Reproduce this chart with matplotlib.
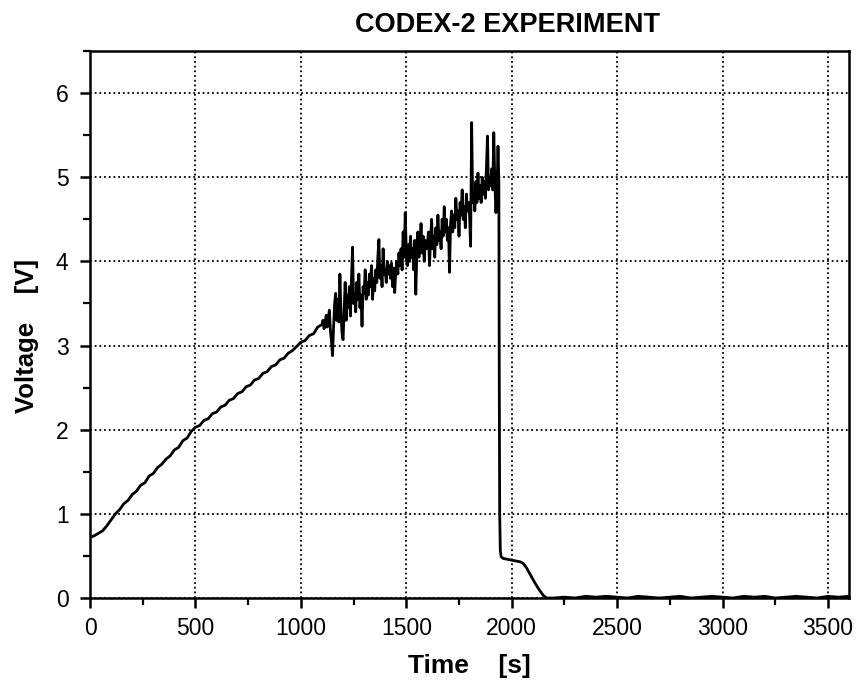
import numpy as np
import matplotlib
matplotlib.use("Agg")
import matplotlib.pyplot as plt
from matplotlib.ticker import MultipleLocator

plt.rcParams['font.family'] = ['Liberation Sans', 'DejaVu Sans']

# --- data ------------------------------------------------------------------
# ramp-up, 0..1080 s every 20 s
t_ramp = list(range(0, 1100, 20))
v_ramp = [0.72, 0.74, 0.77, 0.80, 0.86, 0.93, 1.00, 1.05, 1.12, 1.16,
          1.23, 1.27, 1.34, 1.37, 1.45, 1.48, 1.55, 1.59, 1.65, 1.69,
          1.76, 1.79, 1.87, 1.90, 1.98, 2.03, 2.05, 2.11, 2.13, 2.19,
          2.21, 2.27, 2.29, 2.35, 2.37, 2.43, 2.45, 2.51, 2.53, 2.59,
          2.61, 2.67, 2.69, 2.75, 2.77, 2.83, 2.85, 2.91, 2.94, 2.99,
          3.04, 3.06, 3.12, 3.14, 3.22]

# noisy part, 1100..1935 s every 5 s
t_noisy = list(range(1100, 1940, 5))
v_noisy = [
    # 1100-1195
    3.25, 3.30, 3.20, 3.28, 3.36, 3.22, 3.33, 3.42, 3.18, 3.05,
    2.88, 3.22, 3.50, 3.62, 3.30, 3.55, 3.28, 3.85, 3.40, 3.15,
    # 1200-1295
    3.07, 3.40, 3.75, 3.30, 3.60, 3.45, 3.70, 3.35, 3.80, 4.17,
    3.50, 3.62, 3.40, 3.75, 3.55, 3.85, 3.45, 3.60, 3.23, 3.70,
    # 1300-1395
    3.62, 3.90, 3.55, 3.75, 3.60, 3.85, 3.70, 3.95, 3.55, 3.80,
    3.65, 3.90, 3.75, 4.05, 4.26, 3.80, 3.95, 3.70, 4.15, 3.85,
    # 1400-1495
    3.90, 3.75, 4.00, 3.85, 3.95, 3.80, 3.98, 3.70, 3.92, 3.63,
    3.88, 4.00, 3.85, 4.10, 3.95, 4.15, 3.90, 4.35, 4.05, 4.58,
    # 1500-1595
    4.10, 3.95, 4.20, 4.00, 4.30, 4.05, 4.15, 3.90, 4.25, 3.61,
    4.10, 4.35, 4.05, 4.20, 4.45, 4.10, 4.30, 4.00, 4.25, 4.15,
    # 1600-1695
    4.20, 4.35, 3.95, 4.25, 4.50, 4.15, 4.30, 4.05, 4.40, 4.20,
    4.55, 4.25, 4.35, 4.15, 4.50, 4.30, 4.65, 4.35, 4.50, 4.25,
    # 1700-1795
    4.40, 3.87, 4.45, 4.60, 4.35, 4.55, 4.40, 4.75, 4.50, 4.60,
    4.30, 4.70, 4.55, 4.85, 4.50, 4.65, 4.40, 4.80, 4.60, 4.70,
    # 1800-1895
    4.55, 4.18, 5.65, 4.70, 4.85, 4.60, 4.95, 4.70, 5.05, 4.75,
    4.90, 4.70, 5.00, 4.80, 4.95, 4.75, 5.10, 5.49, 4.85, 5.00,
    # 1900-1935
    4.90, 5.10, 4.85, 5.53, 4.95, 4.58, 4.80, 5.37,
]

# drop and decay
t_drop = [1939, 1941, 1943, 1946, 1950, 1960, 1980, 2000, 2020, 2040,
          2055, 2070, 2090, 2110, 2130, 2150, 2165]
v_drop = [4.95, 2.60, 1.00, 0.56, 0.49, 0.47, 0.46, 0.45, 0.44, 0.43,
          0.41, 0.36, 0.27, 0.18, 0.10, 0.03, 0.0]

# baseline after the run, 2200..3600 s every 50 s
t_tail = list(range(2200, 3650, 50))
v_tail = [0.0, 0.01, 0.0, 0.02, 0.01, 0.02, 0.01, 0.0, 0.02, 0.01,
          0.0, 0.01, 0.02, 0.0, 0.01, 0.02, 0.01, 0.0, 0.02, 0.01,
          0.02, 0.0, 0.01, 0.02, 0.01, 0.0, 0.02, 0.01, 0.02]

time = np.array(t_ramp + t_noisy + t_drop + t_tail, dtype=float)
volt = np.array(v_ramp + v_noisy + v_drop + v_tail)

# --- plot -------------------------------------------------------------------
fig = plt.figure(figsize=(8.58, 6.85), dpi=100)
ax = fig.add_axes([0.105, 0.127, 0.8845, 0.7985])

ax.plot(time, volt, color='black', linewidth=2.0)

ax.set_xlim(0, 3600)
ax.set_ylim(0, 6.5)
ax.xaxis.set_major_locator(MultipleLocator(500))
ax.xaxis.set_minor_locator(MultipleLocator(250))
ax.yaxis.set_major_locator(MultipleLocator(1))
ax.yaxis.set_minor_locator(MultipleLocator(0.5))

ax.grid(True, which='major', color='black', linestyle=(0, (1, 1.6)), linewidth=1.3)
ax.tick_params(which='major', direction='out', length=7.5, width=1.8,
               labelsize=16.5)
ax.tick_params(axis='x', which='major', pad=6)
ax.tick_params(axis='y', which='major', pad=8)
ax.tick_params(which='minor', direction='out', length=5, width=1.6)
for s in ax.spines.values():
    s.set_linewidth(1.8)

ax.set_xlabel('Time    [s]', fontsize=19, fontweight='bold', labelpad=10)
ax.set_ylabel('Voltage    [V]', fontsize=18.5, fontweight='bold')
ax.yaxis.set_label_coords(-0.067, 0.48)
fig.text(0.592, 0.964, 'CODEX-2 EXPERIMENT', ha='center', va='center',
         fontsize=19.5, fontweight='bold')

fig.savefig('out.png', dpi=100, facecolor='white')
